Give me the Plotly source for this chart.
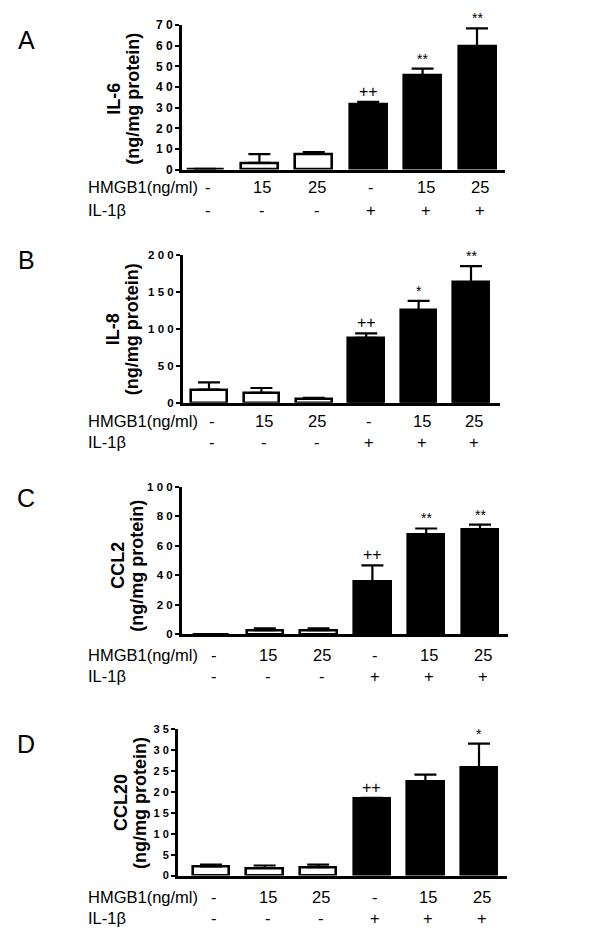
import plotly.graph_objects as go

# ---------------- data ----------------
groups = ["Control", "HMGB1 15", "HMGB1 25", "IL-1β", "IL-1β + HMGB1 15", "IL-1β + HMGB1 25"]
hmgb1_labels = ["-", "15", "25", "-", "15", "25"]
il1b_labels = ["-", "-", "-", "+", "+", "+"]

il6_mean = [0.3, 3.2, 7.6, 31.7, 45.6, 59.8]
il6_err = [0.0, 4.3, 0.9, 1.1, 3.4, 8.7]
il6_sig = ["", "", "", "++", "**", "**"]
il6_ticks = [0, 10, 20, 30, 40, 50, 60, 70]

il8_mean = [17.8, 13.3, 5.3, 88.0, 125.0, 163.0]
il8_err = [9.8, 6.7, 1.4, 6.0, 13.0, 22.0]
il8_sig = ["", "", "", "++", "*", "**"]
il8_ticks = [0, 50, 100, 150, 200]

ccl2_mean = [0.0, 2.9, 2.9, 35.6, 67.8, 70.7]
ccl2_err = [0.0, 1.1, 1.1, 11.1, 3.8, 3.5]
ccl2_sig = ["", "", "", "++", "**", "**"]
ccl2_ticks = [0, 20, 40, 60, 80, 100]

ccl20_mean = [2.2, 1.8, 2.0, 18.4, 22.6, 25.8]
ccl20_err = [0.4, 0.6, 0.6, 0.2, 1.6, 5.8]
ccl20_sig = ["", "", "", "++", "", "*"]
ccl20_ticks = [0, 5, 10, 15, 20, 25, 30, 35]

# ---------------- layout (pixels) ----------------
W, H = 600, 950
FONT = "Liberation Sans, Arial, sans-serif"

panels = [
    dict(letter="A", name="IL-6", mean=il6_mean, err=il6_err, sig=il6_sig, ticks=il6_ticks,
         x0=182, x1=505, y0=18.5, y1=165, c0=205, pitch=54.4,
         tx=(114, 133), ty=93, tsize=18, ticksize=12, rows=(183, 206), ly=33),
    dict(letter="B", name="IL-8", mean=il8_mean, err=il8_err, sig=il8_sig, ticks=il8_ticks,
         x0=183, x1=500, y0=251.7, y1=401.7, c0=209, pitch=52.4,
         tx=(113, 132), ty=327, tsize=18, ticksize=11.5, rows=(420, 441), ly=257),
    dict(letter="C", name="CCL2", mean=ccl2_mean, err=ccl2_err, sig=ccl2_sig, ticks=ccl2_ticks,
         x0=182, x1=508, y0=486.7, y1=636.7, c0=211, pitch=53.8,
         tx=(118, 137), ty=567, tsize=18, ticksize=11.5, rows=(658, 679), ly=498),
    dict(letter="D", name="CCL20", mean=ccl20_mean, err=ccl20_err, sig=ccl20_sig, ticks=ccl20_ticks,
         x0=178, x1=507, y0=733.3, y1=881.5, c0=211, pitch=53.6,
         tx=(121, 140), ty=808, tsize=18, ticksize=11, rows=(903, 925), ly=748),
]

BAR_W = 0.68
ROW_FONT = 16.5


def fx(p):
    return p / W


def fy(p):
    return 1 - p / H


fig = go.Figure()
annotations = []
layout_axes = {}

for i, p in enumerate(panels):
    k = "" if i == 0 else str(i + 1)
    xa, ya = "x" + k, "y" + k
    colors = ["black" if s == "+" else "white" for s in il1b_labels]
    fig.add_trace(go.Bar(
        x=groups, y=p["mean"], xaxis=xa, yaxis=ya, width=BAR_W,
        marker=dict(color=colors, line=dict(color="black", width=2.6)),
        error_y=dict(type="data", symmetric=False, array=p["err"],
                     arrayminus=[0] * len(p["err"]), color="black",
                     thickness=2.2, width=11),
        showlegend=False, hoverinfo="skip",
    ))
    yr = [p["ticks"][0], p["ticks"][-1]]
    layout_axes["xaxis" + k] = dict(
        domain=[fx(p["x0"]), fx(p["x1"])], anchor=ya, type="category",
        categoryorder="array", categoryarray=groups,
        range=[(p["x0"] - p["c0"]) / p["pitch"], (p["x1"] - p["c0"]) / p["pitch"]],
        showline=True, linecolor="black", linewidth=3, ticks="",
        showticklabels=False, showgrid=False, zeroline=False, fixedrange=True,
    )
    layout_axes["yaxis" + k] = dict(
        domain=[fy(p["y1"]), fy(p["y0"])], anchor=xa, range=yr,
        tickvals=p["ticks"], ticktext=[" ".join(str(t)) for t in p["ticks"]],
        tickfont=dict(family=FONT, size=p["ticksize"], color="black", weight="bold"),
        showline=True, linecolor="black", linewidth=3, ticks="outside",
        ticklen=4, tickwidth=2, tickcolor="black",
        showgrid=False, zeroline=False, fixedrange=True,
    )
    # panel letter
    annotations.append(dict(text=p["letter"], xref="paper", yref="paper",
                            x=fx(26), y=fy(p["ly"]), xanchor="center", yanchor="middle",
                            showarrow=False, font=dict(family=FONT, size=25, color="black")))
    # y-axis titles (two lines)
    annotations.append(dict(text="<b>%s</b>" % p["name"], xref="paper", yref="paper",
                            x=fx(p["tx"][0]), y=fy(p["ty"]), xanchor="center", yanchor="middle",
                            textangle=-90, showarrow=False,
                            font=dict(family=FONT, size=p["tsize"], color="black")))
    annotations.append(dict(text="<b>(ng/mg protein)</b>", xref="paper", yref="paper",
                            x=fx(p["tx"][1]), y=fy(p["ty"]), xanchor="center", yanchor="middle",
                            textangle=-90, showarrow=False,
                            font=dict(family=FONT, size=p["tsize"], color="black")))
    # row labels
    annotations.append(dict(text="HMGB1(ng/ml)", xref="paper", yref="paper",
                            x=fx(86), y=fy(p["rows"][0]), xanchor="left", yanchor="middle",
                            showarrow=False, font=dict(family=FONT, size=ROW_FONT, color="black")))
    annotations.append(dict(text="IL-1β", xref="paper", yref="paper",
                            x=fx(86), y=fy(p["rows"][1]), xanchor="left", yanchor="middle",
                            showarrow=False, font=dict(family=FONT, size=ROW_FONT, color="black")))
    for g, h, l, m, e, s in zip(groups, hmgb1_labels, il1b_labels, p["mean"], p["err"], p["sig"]):
        annotations.append(dict(text=h, xref=xa, yref="paper", x=g, y=fy(p["rows"][0]),
                                xanchor="center", yanchor="middle", showarrow=False, xshift=3,
                                font=dict(family=FONT, size=ROW_FONT, color="black")))
        annotations.append(dict(text=l, xref=xa, yref="paper", x=g, y=fy(p["rows"][1]),
                                xanchor="center", yanchor="middle", showarrow=False, xshift=3,
                                font=dict(family=FONT, size=ROW_FONT, color="black")))
        if s:
            annotations.append(dict(text=s, xref=xa, yref=ya, x=g, y=m + e,
                                    xanchor="center", yanchor="bottom", yshift=0,
                                    showarrow=False,
                                    font=dict(family=FONT, size=16 if s == "++" else 14,
                                              color="black")))

fig.update_layout(
    width=W, height=H, margin=dict(l=0, r=0, t=0, b=0),
    paper_bgcolor="white", plot_bgcolor="white",
    annotations=annotations, bargap=0, **layout_axes,
)

fig.write_html("out.html", config={"displayModeBar": False},
               post_script="document.body.style.margin='0';document.body.style.overflow='hidden';")
